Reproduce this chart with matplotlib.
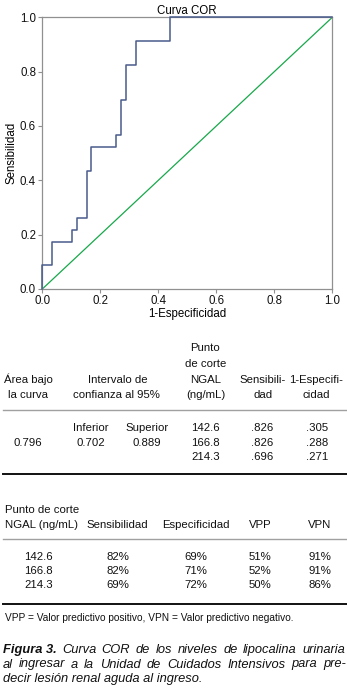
import matplotlib
matplotlib.use("Agg")
import matplotlib.pyplot as plt

# ROC curve (step vertices)
fpr = [0.0, 0.0, 0.032, 0.102, 0.119, 0.153, 0.169, 0.254, 0.271, 0.288, 0.322, 0.441, 1.0]
tpr = [0.0, 0.087, 0.174, 0.217, 0.261, 0.435, 0.522, 0.565, 0.696, 0.826, 0.913, 1.0, 1.0]
ticks = [0.0, 0.2, 0.4, 0.6, 0.8, 1.0]

# table 1
auc = "0.796"
ci_low = "0.702"
ci_high = "0.889"
cut_points = ["142.6", "166.8", "214.3"]
sens_frac = [".826", ".826", ".696"]
one_minus_spec = [".305", ".288", ".271"]

# table 2
sens_pct = ["82%", "82%", "69%"]
spec_pct = ["69%", "71%", "72%"]
vpp = ["51%", "52%", "50%"]
vpn = ["91%", "91%", "86%"]

footnote = "VPP = Valor predictivo positivo, VPN = Valor predictivo negativo."
caption_bold = "Figura 3."
caption_lines = ["Curva COR de los niveles de lipocalina urinaria",
                 "al ingresar a la Unidad de Cuidados Intensivos para pre-",
                 "decir lesión renal aguda al ingreso."]

W, H = 347, 690
fig = plt.figure(figsize=(W / 100, H / 100), dpi=100)
plt.rcParams['font.family'] = ['Liberation Sans', 'DejaVu Sans']
narrow = ['Liberation Sans', 'DejaVu Sans']

def fx(x):
    return x / W

def fy(y):
    return 1 - y / H

# ---- chart
ax = fig.add_axes([fx(42.3), fy(289), (332.3 - 42.3) / W, (289 - 17.3) / H])
ax.plot([0, 1], [0, 1], color='#17a84a', lw=0.9)
ax.plot(fpr, tpr, drawstyle='steps-post', color='#4a5b8c', lw=1.1, clip_on=False, zorder=3)
ax.set_xlim(0, 1)
ax.set_ylim(0, 1)
ax.set_xticks(ticks)
ax.set_yticks(ticks)
ax.set_xticklabels([f"{t:.1f}" for t in ticks])
ax.set_yticklabels([f"{t:.1f}" for t in ticks])
for s in ax.spines.values():
    s.set_color('#909090')
    s.set_linewidth(0.9)
ax.tick_params(direction='out', length=3, width=0.8, color='#909090',
               labelsize=8.3, pad=1.5, labelcolor='#111111')
ax.set_title("Curva COR", fontsize=8.3, pad=2.5)
ax.set_xlabel("1-Especificidad", fontsize=8.3, labelpad=0.5)
ax.set_ylabel("Sensibilidad", fontsize=8.3, labelpad=2)

def t(x, y, s, ha='center', size=8.2, fam=narrow, **kw):
    return fig.text(fx(x), fy(y), s, ha=ha, va='center', fontsize=size,
                    family=fam, color='#111111', **kw)

def hline(y, color, lw):
    fig.add_artist(plt.Line2D([fx(3), fx(347)], [fy(y), fy(y)], color=color,
                              lw=lw, transform=fig.transFigure))

# ---- table 1
t(28, 379.5, "Área bajo")
t(28, 395.5, "la curva")
t(118, 379.5, "Intervalo de")
t(116, 395.5, "confianza al 95%")
for i, s in enumerate(["Punto", "de corte", "NGAL", "(ng/mL)"]):
    t(205.5, 348 + i * 15.8, s)
t(263, 379.5, "Sensibili-")
t(263, 395.5, "dad")
t(316, 379.5, "1-Especifi-")
t(316, 395.5, "cidad")
hline(410, '#a0a0a0', 1.0)
t(91, 428.3, "Inferior")
t(147, 428.3, "Superior")
t(28, 442.7, auc)
t(91, 442.7, ci_low)
t(147, 442.7, ci_high)
for i in range(3):
    yy = 428.3 + i * 14.2
    t(205.5, yy, cut_points[i])
    t(262, yy, sens_frac[i])
    t(317, yy, one_minus_spec[i])
hline(474.3, '#111111', 1.4)

# ---- table 2
t(5, 510, "Punto de corte", ha='left')
t(5, 525, "NGAL (ng/mL)", ha='left')
t(117.7, 525, "Sensibilidad")
t(195.7, 525, "Especificidad")
t(260.3, 525, "VPP")
t(319.7, 525, "VPN")
hline(539.3, '#a0a0a0', 1.0)
for i in range(3):
    yy = 557.3 + i * 13.6
    t(38.3, yy, cut_points[i])
    t(117.7, yy, sens_pct[i])
    t(195.7, yy, spec_pct[i])
    t(260.3, yy, vpp[i])
    t(319.7, yy, vpn[i])
hline(604, '#111111', 1.4)
t(5, 618, footnote, ha='left', size=7.3)

# ---- caption, justified by hand
renderer = fig.canvas.get_renderer()
cap_size = 9.3
x0, x1 = 2.7, 346

def justify(words, y, start, end, first_bold=False):
    arts = []
    for k, w in enumerate(words):
        weight = 'bold' if (first_bold and k == 0) else 'normal'
        arts.append(t(start, y, w, ha='left', size=cap_size, fam=['Liberation Sans'],
                      style='italic', weight=weight))
    widths = [a.get_window_extent(renderer).width for a in arts]
    gap = (end - start - sum(widths)) / (len(words) - 1)
    x = start
    for a, wd in zip(arts, widths):
        a.set_x(fx(x))
        x += wd + gap

justify([caption_bold] + caption_lines[0].split(), 650, x0, 345, first_bold=True)
justify(caption_lines[1].split(), 664.5, x0, x1)
t(x0, 679, caption_lines[2], ha='left', size=cap_size, fam=['Liberation Sans'], style='italic')

fig.savefig("out.png", dpi=100)
